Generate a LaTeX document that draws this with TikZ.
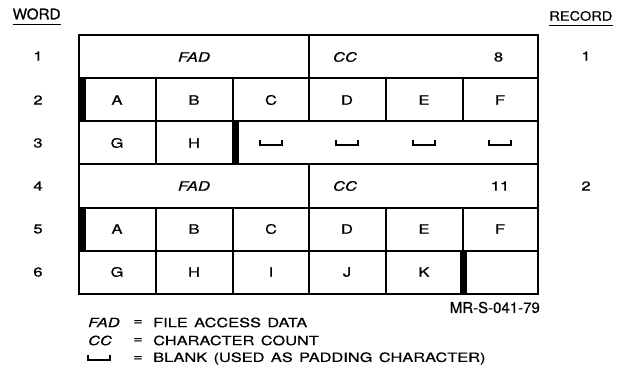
\documentclass[tikz,border=0pt]{standalone}
\usepackage{fontspec}
\setmainfont{TeX Gyre Heros}
\newfontfamily\widefont[FakeStretch=1.28,FakeBold=0.6,WordSpace=1.4]{TeX Gyre Heros}
\newfontfamily\hdrwordfont[FakeStretch=1.05,FakeBold=0.6]{TeX Gyre Heros}
\newfontfamily\hdrrecfont[FakeStretch=1.12,FakeBold=0.6]{TeX Gyre Heros}
\newfontfamily\idfont[FakeBold=0.6]{TeX Gyre Heros}
\begin{document}
\begin{tikzpicture}[x=1pt,y=-1pt,
  grid/.style={line width=1.5pt},
  cell/.style={font=\widefont\fontsize{13}{15}\selectfont, inner sep=0pt, anchor=center},
  fad/.style={cell, font=\widefont\fontsize{13}{15}\selectfont\itshape},
  legend/.style={font=\widefont\fontsize{12.8}{14}\selectfont, inner sep=0pt, anchor=west},
  legendit/.style={legend, font=\widefont\fontsize{12.8}{14}\selectfont\itshape},
  bar/.style={fill=black, draw=none},
  pics/blanksym/.style={code={\draw[line width=2.5pt] (-11,-3.5)--(-11,2)--(11,2)--(11,-3.5);}}
]
\useasboundingbox (0,0) rectangle (620,380);
% headers
\node[font=\hdrwordfont\fontsize{14.5}{16}\selectfont, inner sep=0pt, anchor=west] (word) at (12.5,14) {WORD};
\draw[line width=1.3pt] ([yshift=-4.5pt]word.south west) -- ([yshift=-4.5pt]word.south east);
\node[font=\hdrrecfont\fontsize{13}{15}\selectfont, inner sep=0pt, anchor=east] (record) at (612.5,16) {RECORD};
\draw[line width=1.3pt] ([yshift=-4.5pt]record.south west) -- ([yshift=-4.5pt]record.south east);
% word numbers
\foreach \n/\y in {1/56,2/100,3/143,4/186,5/229,6/272}
  \node[cell] (w\n) at (38,\y) {\n};
\node[cell] (r1) at (586,56) {1};
\node[cell] (r2) at (586,186) {2};
% grid outline
\draw[grid] (79,35) rectangle (538,294);
\foreach \y in {78,121,164,208,251}
  \draw[grid] (79,\y) -- (538,\y);
% row 1 & 4 dividers
\draw[grid] (309,35) -- (309,78);
\draw[grid] (309,164) -- (309,208);
% row 2 & 5 dividers
\foreach \x in {156,233,309,386,463} {
  \draw[grid] (\x,78) -- (\x,121);
  \draw[grid] (\x,208) -- (\x,251);
}
% row 3 dividers
\draw[grid] (156,121) -- (156,164);
% row 6 dividers
\foreach \x in {156,233,309,386}
  \draw[grid] (\x,251) -- (\x,294);
% bars
\fill[bar] (79,78) rectangle (85.5,121);
\fill[bar] (232,121) rectangle (238.5,164);
\fill[bar] (79,208) rectangle (85.5,251);
\fill[bar] (460,251) rectangle (466.5,294);
% row 1
\node[fad] (fad1) at (194,57) {FAD};
\node[fad] (cc1) at (345,57) {CC};
\node[cell] (n8) at (498.5,57) {8};
% row 2
\node[cell] (a2) at (117,100) {A};
\node[cell] (b2) at (194,100) {B};
\node[cell] (c2) at (271,100) {C};
\node[cell] (d2) at (347,100) {D};
\node[cell] (e2) at (424,100) {E};
\node[cell] (f2) at (500,100) {F};
% row 3
\node[cell] (g3) at (117,143) {G};
\node[cell] (h3) at (194,143) {H};
\foreach \x in {271,347,424,500}
  \pic at (\x,143) {blanksym};
% row 4
\node[fad] (fad4) at (194,186) {FAD};
\node[fad] (cc4) at (345,186) {CC};
\node[cell] (n11) at (500,186) {11};
% row 5
\node[cell] (a5) at (117,229) {A};
\node[cell] (b5) at (194,229) {B};
\node[cell] (c5) at (271,229) {C};
\node[cell] (d5) at (347,229) {D};
\node[cell] (e5) at (424,229) {E};
\node[cell] (f5) at (500,229) {F};
% row 6
\node[cell] (g6) at (117,272) {G};
\node[cell] (h6) at (194,272) {H};
\node[cell] (i6) at (271,272) {I};
\node[cell] (j6) at (347,272) {J};
\node[cell] (k6) at (424,272) {K};
% figure id
\node[font=\idfont\fontsize{15}{17}\selectfont, inner sep=0pt, anchor=east] (mr) at (540,307.5) {MR-S-041-79};
% legend
\node[legendit] (lf) at (88,322.5) {FAD};
\node[legend] (le1) at (133,322.5) {=};
\node[legend] (lt1) at (153,322.5) {FILE ACCESS DATA};
\node[legendit] (lc) at (88,340.5) {CC};
\node[legend] (le2) at (133,340.5) {=};
\node[legend] (lt2) at (153,340.5) {CHARACTER COUNT};
\pic at (99,358) {blanksym};
\node[legend] (le3) at (133,358.5) {=};
\node[legend] (lt3) at (153,358.5) {BLANK (USED AS PADDING CHARACTER)};
\end{tikzpicture}
\end{document}
